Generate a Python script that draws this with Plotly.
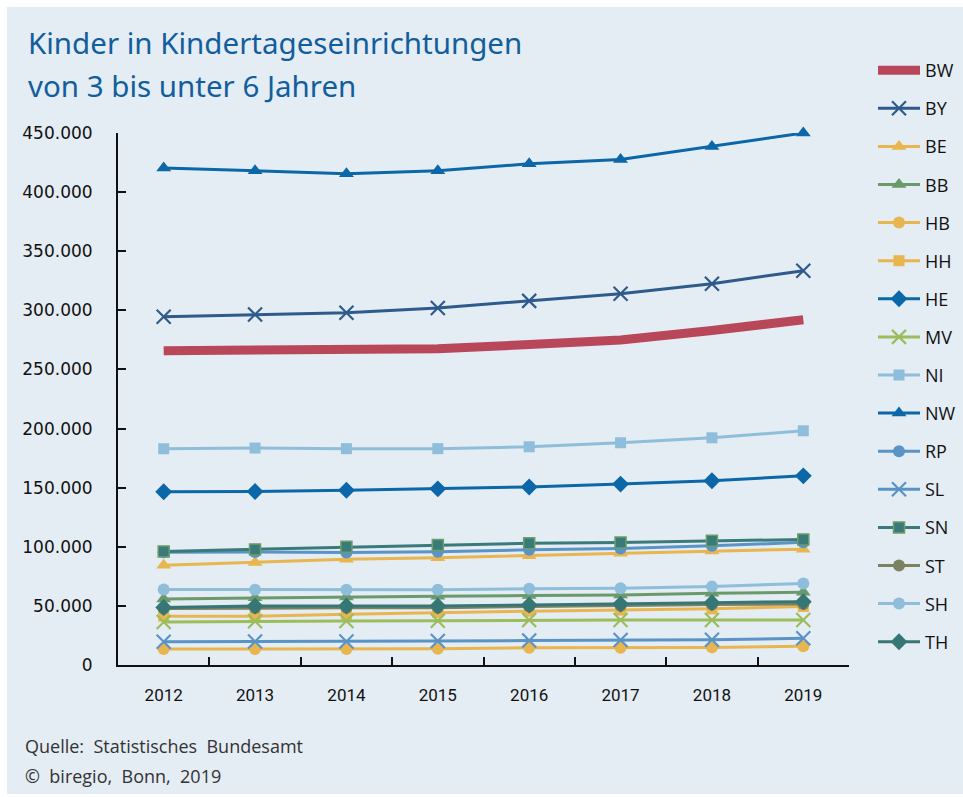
import plotly.graph_objects as go

# Jahre (Kategorien der x-Achse)
years = ["2012", "2013", "2014", "2015", "2016", "2017", "2018", "2019"]

# Kinder von 3 bis unter 6 Jahren in Kindertageseinrichtungen je Bundesland
bw = [265800, 265900, 266000, 267500, 271000, 275000, 283000, 292000]
by = [294500, 296500, 298000, 302000, 308000, 314000, 322500, 333500]
be = [84300, 86800, 89500, 90800, 92500, 94500, 96500, 98000]
bb = [55900, 56800, 57600, 58200, 58800, 59300, 60600, 61500]
hb = [13500, 13500, 13600, 13800, 14500, 14600, 14900, 15800]
hh = [41300, 41200, 42900, 44500, 45500, 46500, 47500, 49500]
he = [146500, 146700, 147800, 149000, 150600, 153000, 155800, 160000]
mv = [36400, 37000, 37200, 37500, 38000, 38100, 38100, 38100]
ni = [182900, 183500, 183000, 183000, 184600, 188000, 192200, 198100]
nw = [420500, 418000, 415500, 418000, 424000, 427500, 438500, 450000]
rp = [95300, 95600, 95200, 95800, 97500, 98600, 100800, 103800]
sl = [19700, 19800, 19800, 20300, 20700, 21100, 21300, 22600]
sn = [96100, 97800, 100000, 101600, 103000, 103600, 105000, 106200]
st = [47800, 48300, 48400, 48500, 49500, 50200, 51200, 51500]
sh = [63800, 63700, 63700, 63700, 64500, 65000, 66300, 69000]
th = [48700, 49900, 49900, 49900, 50800, 51500, 52700, 53600]

YELLOW = "#e8b54f"
series = [
    # name, values, colour, marker symbol, line width
    ("BW", bw, "#b8475a", None, 9),
    ("BY", by, "#2e5a8c", "x-thin", 3),
    ("BE", be, YELLOW, "triangle-up", 3),
    ("BB", bb, "#6a9a6c", "triangle-up", 3),
    ("HB", hb, YELLOW, "circle", 3),
    ("HH", hh, YELLOW, "square", 3),
    ("HE", he, "#0b67a7", "diamond", 3),
    ("MV", mv, "#9bbd5b", "x-thin", 3),
    ("NI", ni, "#8fbedb", "square", 3),
    ("NW", nw, "#0b67a7", "triangle-up", 3),
    ("RP", rp, "#5a93c5", "circle", 3),
    ("SL", sl, "#5a93c5", "x-thin", 3),
    ("SN", sn, "#3a7b79", "square", 3),
    ("ST", st, "#7b8262", "circle", 3),
    ("SH", sh, "#8fbedb", "circle", 3),
    ("TH", th, "#367674", "diamond", 3),
]

W, H = 963, 797
L, R, T, B = 118, 849, 133, 665  # plot area in pixels


def px_x(p):
    return (p - L) / (R - L)


def px_y(p):
    return (B - p) / (B - T)


fig = go.Figure()
for name, vals, color, symbol, lw in series:
    if symbol is None:
        fig.add_trace(go.Scatter(
            x=years, y=vals, name=name, mode="lines", legendgroup=name,
            line=dict(color=color, width=lw), cliponaxis=False,
        ))
        continue
    marker = dict(color=color, symbol=symbol, size=12)
    if symbol == "x-thin":
        marker.update(size=14, line=dict(color=color, width=2.2))
    elif symbol == "square":
        marker.update(size=11)
        if name == "SN":
            marker.update(line=dict(color="#6c9d6a", width=1.5))
    elif symbol == "diamond":
        marker.update(size=13)
    elif symbol == "triangle-up":
        marker.update(size=13)
    fig.add_trace(go.Scatter(
        x=years, y=vals, name=name, mode="lines+markers", legendgroup=name,
        line=dict(color=color, width=lw), marker=marker, cliponaxis=False,
    ))

PANEL = "#e4ecf4"
SRC_FONT = dict(family="Open Sans", size=18, color="#333333")
TITLE_FONT = dict(family="Noto Sans", size=29.5, color="#125e9c")

fig.update_layout(
    width=W, height=H,
    margin=dict(l=L, r=W - R, t=T, b=H - B, pad=0, autoexpand=False),
    paper_bgcolor="white",
    plot_bgcolor="rgba(0,0,0,0)",
    separators=",.",
    showlegend=True,
    legend=dict(
        x=px_x(873), y=px_y(52), xanchor="left", yanchor="top",
        font=dict(family="Open Sans", size=18, color="#111111"),
        bgcolor="rgba(0,0,0,0)", tracegroupgap=11.7, itemwidth=42,
        maxheight=1000,
    ),
    shapes=[dict(
        type="rect", xref="paper", yref="paper", layer="below",
        x0=px_x(7), x1=px_x(W + 2), y0=px_y(794), y1=px_y(7),
        fillcolor=PANEL, line=dict(width=0),
    )],
    annotations=[
        dict(text="Kinder in Kindertageseinrichtungen", x=px_x(26), y=px_y(43),
             xref="paper", yref="paper", xanchor="left", yanchor="middle",
             showarrow=False, font=TITLE_FONT),
        dict(text="von 3 bis unter 6 Jahren", x=px_x(26), y=px_y(86),
             xref="paper", yref="paper", xanchor="left", yanchor="middle",
             showarrow=False, font=TITLE_FONT),
        dict(text="Quelle:  Statistisches  Bundesamt", x=px_x(23), y=px_y(746),
             xref="paper", yref="paper", xanchor="left", yanchor="middle",
             showarrow=False, font=SRC_FONT),
        dict(text="©  biregio,  Bonn,  2019", x=px_x(23), y=px_y(776),
             xref="paper", yref="paper", xanchor="left", yanchor="middle",
             showarrow=False, font=SRC_FONT),
    ],
)

fig.update_xaxes(
    type="category", range=[-0.5, 7.5],
    showline=True, linecolor="#111111", linewidth=2,
    ticks="inside", tickson="boundaries", ticklen=8, tickwidth=2, tickcolor="#111111",
    showgrid=False, zeroline=False,
    tickfont=dict(family="Roboto", size=17, color="#111111"),
    ticklabelstandoff=14,
)
fig.update_yaxes(
    range=[0, 450000], tickvals=list(range(0, 450001, 50000)), tickformat=",.0f",
    showline=True, linecolor="#111111", linewidth=2,
    ticks="inside", ticklen=8, tickwidth=2, tickcolor="#111111",
    showgrid=False, zeroline=False,
    tickfont=dict(family="DejaVu Sans", size=17, color="#111111"),
    ticklabelstandoff=20,
)

fig.write_html("out.html")
